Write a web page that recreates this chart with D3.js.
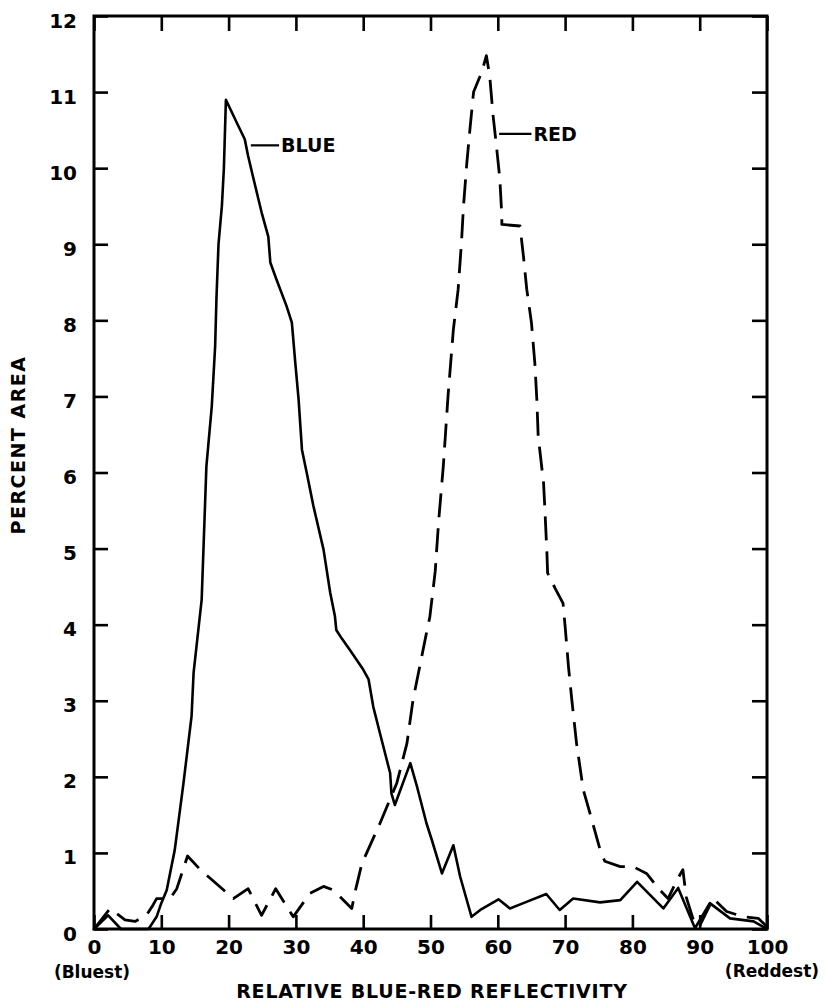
<!DOCTYPE html>
<html>
<head>
<meta charset="utf-8">
<script src="https://cdn.jsdelivr.net/npm/d3@7"></script>
<style>
  html, body { margin: 0; padding: 0; background: #fff; }
  svg { display: block; }
  text { font-family: "DejaVu Sans", sans-serif; font-weight: bold; fill: #000; }
</style>
</head>
<body>
<svg id="chart" width="826" height="1002"></svg>
<script>
// ---- data ----
const blueX = [0, 2.1, 4.0, 8.1, 9.3, 10, 10.8, 12.0, 13.3, 14.5, 14.8, 16.0, 16.7, 17.5, 18.0, 18.2, 18.5, 19.0, 19.3, 19.6,
  21.2, 22.4, 22.9, 23.7, 24.9, 25.9, 26.2, 27.1, 28.6, 29.4, 29.9, 30.4, 30.9, 31.6, 32.6, 34.1, 35.1, 35.8, 36.0, 36.8,
  38.0, 40.0, 40.8, 41.5, 42.5, 44.0, 44.2, 44.7, 47.0, 48.0, 49.4, 50.2, 51.7, 53.4, 54.4, 56.1, 57.4, 60.1, 61.8, 63.8,
  67.2, 69.2, 71.2, 75.2, 78.2, 80.7, 84.6, 86.8, 89.3, 91.5, 94.5, 98, 100];
const blueY = [0, 0.18, 0, 0, 0.16, 0.34, 0.51, 1.04, 1.92, 2.8, 3.37, 4.33, 6.08, 6.87, 7.66, 8.3, 9.0, 9.5, 10.0, 10.9,
  10.6, 10.38, 10.16, 9.86, 9.42, 9.1, 8.76, 8.54, 8.19, 7.97, 7.45, 6.96, 6.3, 6.0, 5.56, 4.99, 4.42, 4.11, 3.93, 3.82,
  3.67, 3.41, 3.28, 2.92, 2.57, 2.05, 1.78, 1.63, 2.18, 1.87, 1.39, 1.17, 0.73, 1.1, 0.69, 0.16, 0.25, 0.39, 0.27, 0.34,
  0.46, 0.25, 0.4, 0.35, 0.38, 0.62, 0.27, 0.54, 0.01, 0.34, 0.14, 0.1, 0];

const redX = [0, 2.4, 4.6, 6.1, 7.8, 8.8, 9.3, 10.6, 11.3, 12.3, 13.9, 15.8, 20.7, 22.9, 24.9, 27.0, 29.6, 32.1, 34.1, 35.6,
  38.3, 38.8, 39.8, 42.5, 45, 46.5, 47.4, 48.4, 49.4, 49.9, 50.7, 51.2, 51.9, 52.6, 53.4, 54.1, 54.6, 54.9, 55.4, 55.9,
  56.4, 57.6, 58.3, 58.8, 59.3, 59.8, 60.3, 60.6, 60.6, 63.3, 63.8, 64.3, 65.0, 65.5, 65.8, 66.0, 66.8, 67.0, 67.3, 67.4,
  68.5, 69.7, 70.0, 70.5, 71.0, 71.7, 72.7, 73.7, 75.2, 75.9, 78.2, 80.1, 82.1, 84.1, 85.3, 86.6, 87.5, 88.0, 89.3, 90,
  92, 94, 96.5, 98.7, 100];
const redY = [0, 0.27, 0.12, 0.1, 0.18, 0.32, 0.4, 0.4, 0.4, 0.53, 0.96, 0.78, 0.4, 0.53, 0.18, 0.53, 0.16, 0.47, 0.56, 0.51,
  0.27, 0.49, 0.86, 1.39, 1.92, 2.44, 3.01, 3.45, 3.89, 4.1, 4.7, 5.35, 6.08, 7.0, 7.88, 8.4, 9.02, 9.5, 10.07, 10.55,
  11.0, 11.26, 11.48, 11.21, 10.69, 10.29, 9.86, 9.37, 9.26, 9.24, 8.85, 8.41, 7.97, 7.44, 6.96, 6.48, 5.86, 5.51, 4.94, 4.68,
  4.48, 4.28, 3.98, 3.45, 3.01, 2.44, 1.83, 1.52, 1.04, 0.89, 0.82, 0.82, 0.73, 0.51, 0.4, 0.64, 0.78, 0.42, 0.05, 0.04,
  0.4, 0.23, 0.16, 0.14, 0.03];

const xTicks = [0, 10, 20, 30, 40, 50, 60, 70, 80, 90, 100];
const yTicks = [0, 1, 2, 3, 4, 5, 6, 7, 8, 9, 10, 11, 12];
const xTitle = "RELATIVE BLUE-RED REFLECTIVITY";
const yTitle = "PERCENT AREA";
const xEndLabels = ["(Bluest)", "(Reddest)"];
const seriesLabels = [
  { name: "BLUE", x: 23.3, y: 10.3, lx: 27.5 },
  { name: "RED", x: 60.2, y: 10.45, lx: 65.0 }
];

// ---- layout ----
const svg = d3.select("#chart");
const mLeft = 94, mRight = 767, mTop = 16, mBottom = 929;
const x = d3.scaleLinear().domain([0, 100]).range([mLeft, mRight]);
const y = d3.scaleLinear().domain([0, 12]).range([mBottom, mTop]);

// axes
const gB = svg.append("g").attr("transform", `translate(0,${mBottom})`)
  .call(d3.axisBottom(x).tickValues(xTicks).tickSize(-14).tickPadding(11).tickFormat(d3.format("d")));
const gL = svg.append("g").attr("transform", `translate(${mLeft},0)`)
  .call(d3.axisLeft(y).tickValues(yTicks).tickSize(-14).tickPadding(15).tickFormat(d3.format("d")));
const gT = svg.append("g").attr("transform", `translate(0,${mTop})`)
  .call(d3.axisTop(x).tickValues(xTicks).tickSize(-15).tickFormat(""));
const gR = svg.append("g").attr("transform", `translate(${mRight},0)`)
  .call(d3.axisRight(y).tickValues(yTicks).tickSize(-15).tickFormat(""));

[gB, gL, gT, gR].forEach(g => {
  g.select(".domain").remove();
  g.selectAll(".tick line").attr("stroke", "#000").attr("stroke-width", 2.6);
  g.selectAll(".tick text").attr("font-size", 20).attr("font-family", "DejaVu Sans").attr("font-weight", "bold").attr("fill", "#000");
});
gL.selectAll(".tick text").attr("dy", "0.55em").attr("x", -17);

// frame
svg.append("rect")
  .attr("x", mLeft).attr("y", mTop)
  .attr("width", mRight - mLeft).attr("height", mBottom - mTop)
  .attr("fill", "none").attr("stroke", "#000").attr("stroke-width", 3);

// curves
const line = d3.line().x(d => x(d[0])).y(d => y(d[1]));
const blue = blueX.map((v, i) => [v, blueY[i]]);
const red = redX.map((v, i) => [v, redY[i]]);

svg.append("path").datum(blue).attr("d", line)
  .attr("fill", "none").attr("stroke", "#000").attr("stroke-width", 2.6)
  .attr("stroke-linejoin", "round").attr("stroke-linecap", "round");
svg.append("path").datum(red).attr("d", line)
  .attr("fill", "none").attr("stroke", "#000").attr("stroke-width", 2.8)
  .attr("stroke-dasharray", "24,11").attr("stroke-linejoin", "round");

// series labels with leader lines
seriesLabels.forEach(s => {
  svg.append("line")
    .attr("x1", x(s.x)).attr("x2", x(s.lx))
    .attr("y1", y(s.y)).attr("y2", y(s.y))
    .attr("stroke", "#000").attr("stroke-width", 2.2);
  svg.append("text")
    .attr("x", x(s.lx) + 2).attr("y", y(s.y))
    .attr("dy", "0.36em")
    .attr("font-size", 19)
    .text(s.name);
});

// end labels
svg.append("text").attr("x", x(0) - 2).attr("y", 978).attr("text-anchor", "middle")
  .attr("font-size", 17).text(xEndLabels[0]);
svg.append("text").attr("x", x(100) + 5).attr("y", 977).attr("text-anchor", "middle")
  .attr("font-size", 17).text(xEndLabels[1]);

// axis titles
svg.append("text").attr("x", 432).attr("y", 998).attr("text-anchor", "middle")
  .attr("font-size", 19).attr("letter-spacing", 0.8).text(xTitle);
svg.append("text").attr("transform", "translate(25,445) rotate(-90)").attr("text-anchor", "middle")
  .attr("font-size", 19).attr("letter-spacing", 1.5).text(yTitle);
</script>
</body>
</html>
